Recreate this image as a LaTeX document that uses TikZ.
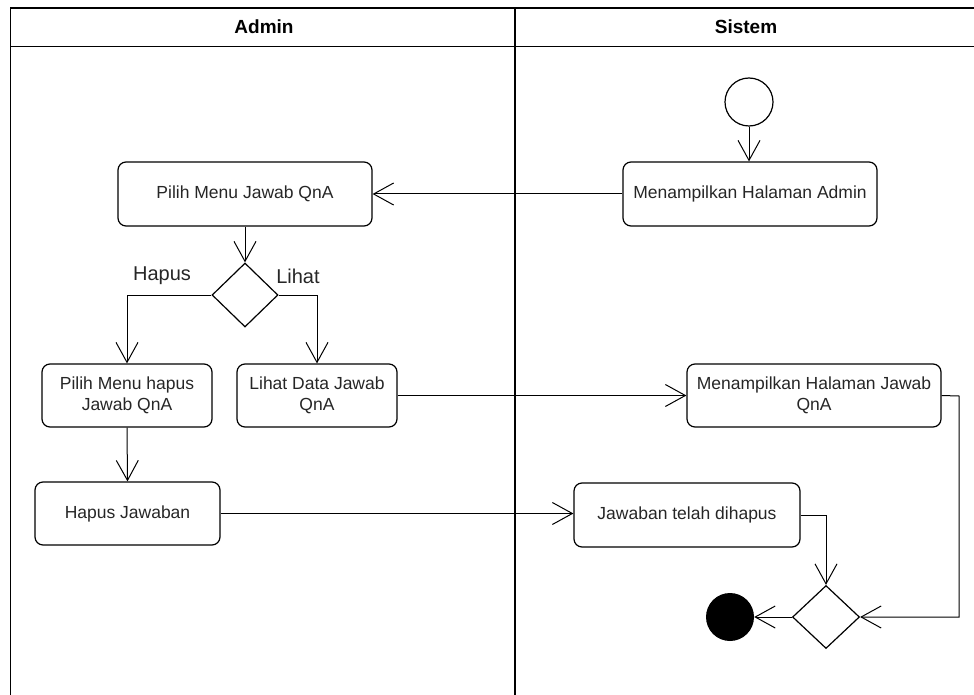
\documentclass[tikz,border=0pt]{standalone}
\usepackage{fontspec}
\setmainfont{Liberation Sans}
\usetikzlibrary{arrows.meta,shapes.geometric}
\begin{document}
\begin{tikzpicture}[x=1pt,y=-1pt,
  act/.style={draw,rounded corners=8pt,line width=1.2pt,align=center,inner sep=2pt,
    font=\fontsize{17.5}{21}\selectfont,text=black!85},
  dec/.style={draw,diamond,line width=1.2pt,inner sep=0pt,minimum width=66pt,minimum height=64pt},
  flow/.style={line width=1pt,-{Straight Barb[length=20pt,width=22pt,line width=1pt]}},
  lane/.style={line width=1.4pt},
  lbl/.style={font=\fontsize{20}{24}\selectfont,text=black!85},
  hdr/.style={font=\bfseries\fontsize{19}{23}\selectfont}]
\useasboundingbox (0,0) rectangle (974,695);
% swimlanes
\draw[lane] (10.5,695) -- (10.5,8) -- (974,8);
\draw[lane] (10.5,46.5) -- (974,46.5);
\draw[lane] (515,8) -- (515,695);
\node[hdr] (hadmin) at (264,27) {Admin};
\node[hdr] (hsistem) at (746,27) {Sistem};
% nodes
\node[draw,circle,line width=1.2pt,minimum size=48pt,inner sep=0pt] (start) at (749,102) {};
\node[act,minimum width=254pt,minimum height=64pt] (mha) at (750,194) {Menampilkan Halaman Admin};
\node[act,minimum width=254pt,minimum height=64pt] (pm) at (245,194) {Pilih Menu Jawab QnA};
\node[dec] (d1) at (245,295) {};
\node[lbl] (lhapus) at (162,276) {Hapus};
\node[lbl] (llihat) at (298,276) {Lihat};
\node[act,minimum width=170pt,minimum height=63pt] (ph) at (127,395.5) {Pilih Menu hapus\\Jawab QnA};
\node[act,minimum width=160pt,minimum height=63pt] (ld) at (317,395.5) {Lihat Data Jawab\\QnA};
\node[act,minimum width=185pt,minimum height=63pt] (hj) at (127.5,513.5) {Hapus Jawaban};
\node[act,minimum width=254pt,minimum height=63pt] (mhj) at (814,395.5) {Menampilkan Halaman Jawab\\QnA};
\node[act,minimum width=226pt,minimum height=64pt] (jtd) at (687,515) {Jawaban telah dihapus};
\node[dec,minimum width=67pt,minimum height=63pt] (d2) at (826,617) {};
\node[circle,fill=black,minimum size=48pt,inner sep=0pt] (end) at (730,617) {};
\coordinate (rc) at (959,396);
% connectors
\draw[flow] (start.south) -- (start.south |- mha.north);
\draw[flow] (mha.west) -- (pm.east);
\draw[flow] (pm.south) -- (d1.north);
\draw[flow] (d1.west) -| (ph.north);
\draw[flow] (d1.east) -| (ld.north);
\draw[flow] (ph.south) -- (hj.north);
\draw[flow] (ld.east) -- (ld.east -| mhj.west);
\draw[flow] (hj.east) -- (hj.east -| jtd.west);
\draw[flow] (jtd.east) -| (d2.north);
\draw[flow] (mhj.east) -- (rc) |- (d2.east);
\draw[flow] (d2.west) -- (end);
\end{tikzpicture}
\end{document}
